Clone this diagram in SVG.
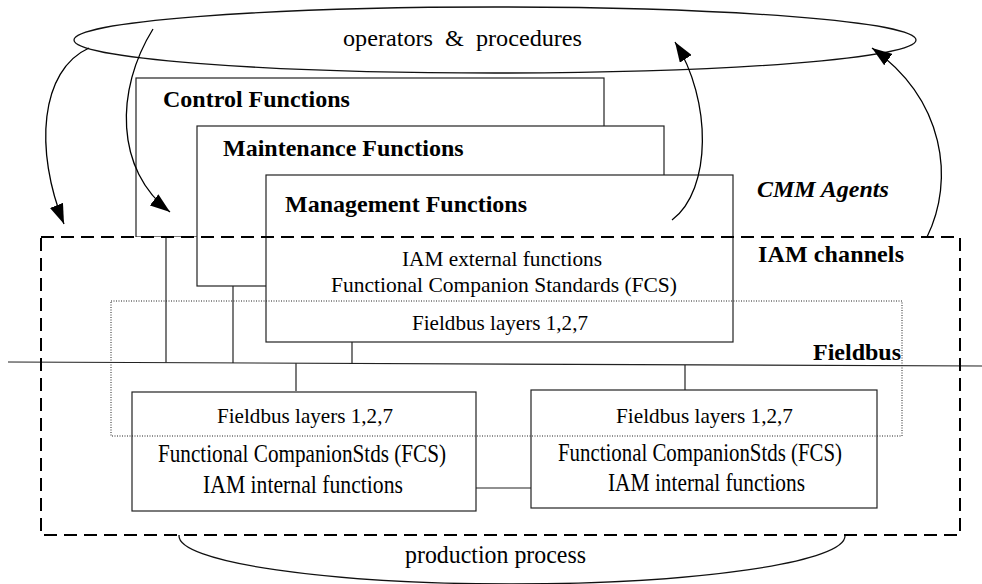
<svg xmlns="http://www.w3.org/2000/svg" width="982" height="584" viewBox="0 0 982 584">
<style>
  text { font-family: "Liberation Serif", "Times New Roman", serif; fill: #000; }
  .b { font-weight: bold; font-size: 24px; }
  .n { font-size: 21px; }
  .m { font-size: 22px; }
  .c { font-size: 25px; }
  .box { fill: #fff; stroke: #222; stroke-width: 1.2; }
  .ln { fill: none; stroke: #222; stroke-width: 1.2; }
  .arr { fill: none; stroke: #000; stroke-width: 1.3; marker-end: url(#ah); }
  .dash { fill: none; stroke: #000; stroke-width: 2; stroke-dasharray: 13 7; }
  .dot { fill: none; stroke: #222; stroke-width: 1; stroke-dasharray: 1 1.5; }
  .ell { fill: none; stroke: #111; stroke-width: 1.3; }
</style>
<defs>
  <marker id="ah" markerUnits="userSpaceOnUse" markerWidth="22" markerHeight="14" refX="20" refY="7" orient="auto">
    <path d="M0,0 L20,7 L0,14 z" fill="#000"/>
  </marker>
</defs>
<rect width="982" height="584" fill="#fff"/>

<g id="production-process">
  <ellipse class="ell" cx="512" cy="536" rx="333" ry="48"/>
  <text x="405" y="563" font-size="25" textLength="181" lengthAdjust="spacingAndGlyphs">production process</text>
</g>

<g id="operators-procedures">
  <ellipse class="ell" cx="495" cy="40" rx="421" ry="33"/>
  <text x="343" y="46" font-size="24" xml:space="preserve" textLength="239" lengthAdjust="spacingAndGlyphs">operators  &amp;  procedures</text>
</g>

<g id="control-functions">
  <rect class="box" x="136" y="78" width="468" height="159"/>
  <text class="b" x="163" y="107">Control Functions</text>
</g>

<g id="iam-channels">
  <rect x="41" y="237" width="919" height="298" fill="#fff" stroke="none"/>
</g>

<g id="maintenance-functions">
  <rect class="box" x="197" y="126" width="467" height="160"/>
  <text class="b" x="223" y="156">Maintenance Functions</text>
</g>

<g id="management-functions">
  <rect class="box" x="266" y="175" width="467" height="167"/>
  <text class="b" x="285" y="212">Management Functions</text>
  <text class="m" x="402" y="266" textLength="200" lengthAdjust="spacingAndGlyphs">IAM external functions</text>
  <text class="m" x="331" y="292" textLength="346" lengthAdjust="spacingAndGlyphs">Functional Companion Standards (FCS)</text>
  <text class="m" x="412" y="330" textLength="176" lengthAdjust="spacingAndGlyphs">Fieldbus layers 1,2,7</text>
</g>

<g id="connectors">
  <line class="ln" x1="8" y1="362" x2="982" y2="366"/>
  <line class="ln" x1="166" y1="237" x2="166" y2="362.6"/>
  <line class="ln" x1="233" y1="286" x2="233" y2="363"/>
  <line class="ln" x1="352" y1="342" x2="352" y2="363.5"/>
  <line class="ln" x1="296" y1="363.3" x2="296" y2="391"/>
  <line class="ln" x1="685" y1="364.9" x2="685" y2="390"/>
  <line class="ln" x1="476" y1="488" x2="531" y2="488"/>
  <path class="arr" d="M89,48 C40,70 34,150 64,224"/>
  <path class="arr" d="M153,29 C115,90 115,170 170,212"/>
  <path class="arr" d="M672,220 C712,190 712,100 675,42"/>
  <path class="arr" d="M927,237 C955,180 945,100 872,48"/>
</g>

<g id="iam-left">
  <rect class="box" x="132" y="392" width="344" height="119"/>
  <text class="m" x="217" y="423" textLength="176" lengthAdjust="spacingAndGlyphs">Fieldbus layers 1,2,7</text>
  <text class="c" x="158" y="462" textLength="288" lengthAdjust="spacingAndGlyphs">Functional CompanionStds (FCS)</text>
  <text class="c" x="203" y="493" textLength="200" lengthAdjust="spacingAndGlyphs">IAM internal functions</text>
</g>

<g id="iam-right">
  <rect class="box" x="531" y="390" width="346" height="118"/>
  <text class="m" x="616" y="423" textLength="177" lengthAdjust="spacingAndGlyphs">Fieldbus layers 1,2,7</text>
  <text class="c" x="558" y="461" textLength="284" lengthAdjust="spacingAndGlyphs">Functional CompanionStds (FCS)</text>
  <text class="c" x="608" y="491" textLength="197" lengthAdjust="spacingAndGlyphs">IAM internal functions</text>
</g>

<g id="iam-channels-frame">
  <rect class="dash" x="41" y="237" width="919" height="298"/>
  <text class="b" x="758" y="262" textLength="146" lengthAdjust="spacing">IAM channels</text>
</g>

<g id="fieldbus">
  <rect class="dot" x="111" y="301" width="791" height="135"/>
  <text class="b" x="813" y="360">Fieldbus</text>
</g>

<g id="cmm-agents">
  <text class="b" x="757" y="197" font-style="italic">CMM Agents</text>
</g>
</svg>
